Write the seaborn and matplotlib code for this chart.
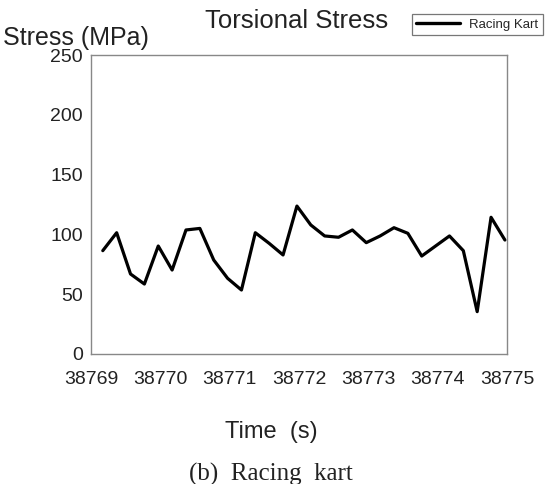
import matplotlib
matplotlib.use("Agg")
import matplotlib.pyplot as plt
import seaborn as sns
import pandas as pd
from matplotlib.lines import Line2D

time_s = [38769.17, 38769.37, 38769.57, 38769.77, 38769.97, 38770.17, 38770.37,
          38770.57, 38770.77, 38770.97, 38771.17, 38771.37, 38771.57, 38771.77,
          38771.97, 38772.17, 38772.37, 38772.57, 38772.77, 38772.97, 38773.17,
          38773.37, 38773.57, 38773.77, 38773.97, 38774.17, 38774.37, 38774.57,
          38774.77, 38774.97]
stress_mpa = [86.4, 101.4, 66.9, 58.5, 90.3, 70.2, 103.7, 105.0, 78.6, 63.3,
              53.5, 101.4, 92.5, 82.8, 123.7, 107.9, 98.7, 97.6, 103.7, 93.1,
              98.7, 105.6, 100.9, 81.9, 90.3, 98.7, 86.4, 35.4, 114.3, 95.3]
x_ticks = [38769, 38770, 38771, 38772, 38773, 38774, 38775]
y_ticks = [0, 50, 100, 150, 200, 250]
series_name = "Racing Kart"

sns.set_theme(style="white")
plt.rcParams['font.family'] = ['Liberation Sans', 'DejaVu Sans']

df = pd.DataFrame({"Time": time_s, "Stress": stress_mpa, "Series": series_name})

fig = plt.figure(figsize=(5.45, 4.84), dpi=100)
ax = fig.add_axes([91/545, 1-354/484, (507-91)/545, (354-55)/484])

sns.lineplot(data=df, x="Time", y="Stress", hue="Series", palette=["black"],
             linewidth=2.3, ax=ax, legend=False)

ax.set_xlim(38769, 38775)
ax.set_ylim(0, 250)
ax.set_xticks(x_ticks)
ax.set_xticklabels([str(v) for v in x_ticks])
ax.set_yticks(y_ticks)
ax.set_yticklabels([str(v) for v in y_ticks])
ax.tick_params(direction="in", length=3, width=0.8, colors="#888888",
               labelcolor="#222222", labelsize=14)
ax.tick_params(axis="x", pad=12)
ax.tick_params(axis="y", pad=6)
for s in ax.spines.values():
    s.set_color("#888888")
    s.set_linewidth(1.0)
ax.set_xlabel("")
ax.set_ylabel("")

fig.text(3/545, 1-38/484, "Stress (MPa)", fontsize=18, color="#222222",
         ha="left", va="center")
fig.text(297/545, 1-21/484, "Torsional Stress", fontsize=18.5, color="#222222",
         ha="center", va="center")
fig.text(271/545, 1-432/484, "Time  (s)", fontsize=17, color="#222222",
         ha="center", va="center")
fig.text(271/545, 1-474/484, "(b)  Racing  kart", fontsize=18,
         family=["Liberation Serif", "DejaVu Serif"], color="#222222",
         ha="center", va="center")

h = [Line2D([0], [0], color="black", linewidth=2.4)]
leg = fig.legend(h, [series_name], loc="upper right",
                 bbox_to_anchor=(543/545, 1-14/484), fontsize=9.5,
                 frameon=True, fancybox=False, handlelength=3.3,
                 borderpad=0.35, handletextpad=0.7, borderaxespad=0)
leg.get_frame().set_edgecolor("#555555")
leg.get_frame().set_linewidth(0.9)

fig.savefig("out.png", dpi=100, facecolor="white")
